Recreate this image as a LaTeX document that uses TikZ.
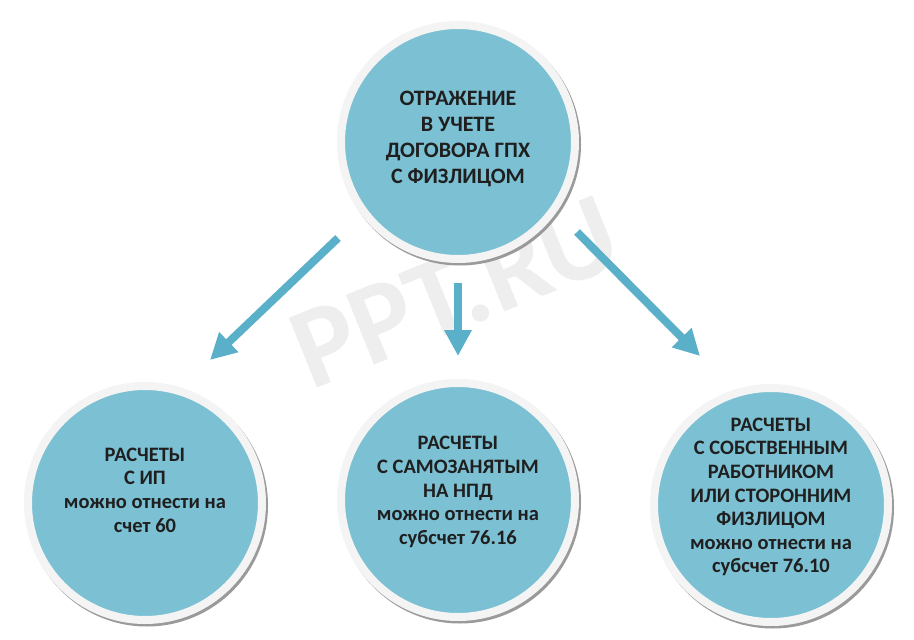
\documentclass[tikz,border=0pt]{standalone}
\usepackage{fontspec}
\setmainfont{Carlito}
\usetikzlibrary{arrows.meta,calc}
\definecolor{bfill}{HTML}{7CC0D3}
\definecolor{barrow}{HTML}{5BB0C9}
\definecolor{ringcol}{HTML}{F4F4F4}
\definecolor{shadcol}{HTML}{9A9A9A}
\definecolor{wmark}{HTML}{EEEEEE}
\begin{document}
\begin{tikzpicture}[x=1pt,y=-1pt,
  bubble/.style={circle, fill=bfill, draw=ringcol, line width=8pt, minimum size=234pt, inner sep=0pt},
  txt/.style={align=center, font=\fontsize{20.5}{23.6}\selectfont\bfseries, text=black!88, inner sep=0pt},
  toptxt/.style={align=center, font=\fontsize{22}{26}\selectfont\bfseries, text=black!88, inner sep=0pt},
  conn/.style={draw=barrow, line width=8pt, -{Triangle[width=26pt,length=26pt]}},
  shadowc/.style={fill=shadcol}]
\useasboundingbox[fill=white] (0,0) rectangle (914,640);
% watermark
\node[rotate=22, font=\fontsize{116}{116}\selectfont\bfseries, text=wmark, inner sep=0pt] (wm) at (455,292) {PPT.RU};
% shadows
\fill[shadowc] (460,144.5) circle (121);
\fill[shadowc] (147,505.5) circle (121);
\fill[shadowc] (460,502.5) circle (121);
\fill[shadowc] (773,507.5) circle (121);
% circles
\node[bubble] (T) at (458,142) {};
\node[bubble] (L) at (145,503) {};
\node[bubble] (M) at (458,500) {};
\node[bubble] (R) at (771,505) {};
% texts
\node[toptxt] (Tt) at ($(T)+(0,-3)$) {ОТРАЖЕНИЕ\\В УЧЕТЕ\\ДОГОВОРА ГПХ\\С ФИЗЛИЦОМ};
\node[txt] (Lt) at ($(L)+(0,-13)$) {РАСЧЕТЫ\\С ИП\\можно отнести на\\счет 60};
\node[txt] (Mt) at ($(M)+(0,-8)$) {РАСЧЕТЫ\\С САМОЗАНЯТЫМ\\НА НПД\\можно отнести на\\субсчет 76.16};
\node[txt] (Rt) at ($(R)+(0,-8)$) {РАСЧЕТЫ\\С СОБСТВЕННЫМ\\РАБОТНИКОМ\\ИЛИ СТОРОННИМ\\ФИЗЛИЦОМ\\можно отнести на\\субсчет 76.10};
% arrow end points
\coordinate (a1s) at ($(T)+(-120,96)$);
\coordinate (a1e) at ($(L)+(65,-143)$);
\coordinate (a2s) at ($(T)+(0,141)$);
\coordinate (a2e) at ($(M)+(0,-144)$);
\coordinate (a3s) at ($(T)+(119,90)$);
\coordinate (a3e) at ($(R)+(-71,-149)$);
\draw[conn] (a1s) -- (a1e);
\draw[conn] (a2s) -- (a2e);
\draw[conn] (a3s) -- (a3e);
\end{tikzpicture}
\end{document}
